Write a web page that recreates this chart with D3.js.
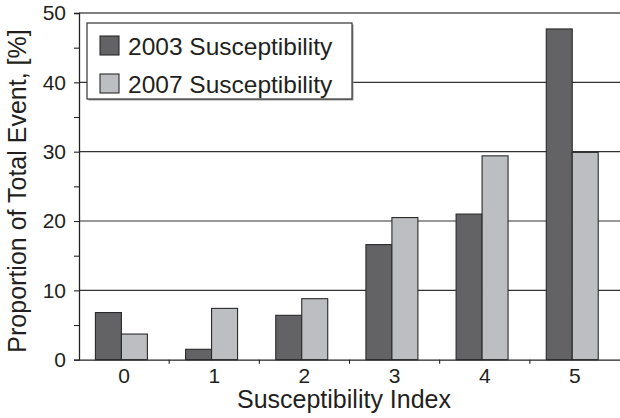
<!DOCTYPE html>
<html>
<head>
<meta charset="utf-8">
<script src="https://cdn.jsdelivr.net/npm/d3@7"></script>
<style>
  body { margin: 0; background: #fff; }
  svg { display: block; font-family: "Liberation Sans", Arial, sans-serif; }
</style>
</head>
<body>
<div id="chart"></div>
<script>
var categories = ["0", "1", "2", "3", "4", "5"];
var seriesNames = ["2003 Susceptibility", "2007 Susceptibility"];
var values2003 = [6.8, 1.5, 6.4, 16.6, 21.0, 47.7];
var values2007 = [3.7, 7.4, 8.8, 20.5, 29.4, 29.9];
var yTicks = [0, 10, 20, 30, 40, 50];
var yMinorTicks = [5, 15, 25, 35, 45];
var colors = ["#636365", "#bdbec2"];

var width = 620, height = 418;
var margin = {top: 13, right: 0, bottom: 58, left: 79};

var svg = d3.select("#chart").append("svg")
    .attr("width", width)
    .attr("height", height);

var xScale = d3.scaleBand()
    .domain(categories)
    .range([margin.left, width - margin.right]);

var xInner = d3.scaleBand()
    .domain(seriesNames)
    .range([0, xScale.bandwidth()])
    .paddingInner(0)
    .paddingOuter(0.735)
    .align(0.43);

var yScale = d3.scaleLinear()
    .domain([0, 50])
    .range([height - margin.bottom - 0.3, margin.top]);

var data = categories.map(function(c, i) {
  return {cat: c, vals: [values2003[i], values2007[i]]};
});

// gridlines
svg.append("g")
  .selectAll("line")
  .data(yTicks.filter(function(d) { return d > 0 && d < 50; }))
  .enter().append("line")
    .attr("x1", margin.left)
    .attr("x2", width)
    .attr("y1", function(d) { return yScale(d); })
    .attr("y2", function(d) { return yScale(d); })
    .attr("stroke", "#333")
    .attr("stroke-width", 1.2);

// top border of plot
svg.append("line")
    .attr("x1", margin.left)
    .attr("x2", width)
    .attr("y1", yScale(50))
    .attr("y2", yScale(50))
    .attr("stroke", "#808080")
    .attr("stroke-width", 2.2);

// bars
var groups = svg.append("g")
  .selectAll("g")
  .data(data)
  .enter().append("g")
    .attr("transform", function(d) { return "translate(" + xScale(d.cat) + ",0)"; });

groups.selectAll("rect")
  .data(function(d) { return d.vals.map(function(v, j) { return {s: seriesNames[j], v: v, j: j}; }); })
  .enter().append("rect")
    .attr("x", function(d) { return xInner(d.s); })
    .attr("y", function(d) { return yScale(d.v); })
    .attr("width", xInner.bandwidth())
    .attr("height", function(d) { return yScale(0) - yScale(d.v); })
    .attr("fill", function(d) { return colors[d.j]; })
    .attr("stroke", "#2a2a2a")
    .attr("stroke-width", 1.1);

// y axis
var yAxis = svg.append("g")
    .attr("transform", "translate(" + margin.left + ",0)")
    .call(d3.axisLeft(yScale).tickValues(yTicks).tickSize(5).tickPadding(8));
yAxis.select(".domain").attr("stroke", "#222").attr("stroke-width", 1.3);
yAxis.selectAll(".tick line").attr("stroke", "#222").attr("stroke-width", 1.1);
yAxis.selectAll(".tick text")
    .attr("font-size", "21px")
    .attr("fill", "#231f20")
    .attr("font-family", "Liberation Sans, Arial, sans-serif");

svg.append("g")
    .attr("transform", "translate(" + margin.left + ",0)")
    .call(d3.axisLeft(yScale).tickValues(yMinorTicks).tickSize(5).tickFormat(""))
    .call(function(g) { g.select(".domain").remove(); })
    .selectAll(".tick line").attr("stroke", "#222").attr("stroke-width", 1.1);

// x axis
var xAxis = svg.append("g")
    .attr("transform", "translate(0," + yScale(0) + ")")
    .call(d3.axisBottom(xScale).tickSize(0).tickPadding(8));
xAxis.select(".domain").attr("stroke", "#222").attr("stroke-width", 1.3);
xAxis.selectAll(".tick text")
    .attr("font-size", "21px")
    .attr("fill", "#231f20")
    .attr("font-family", "Liberation Sans, Arial, sans-serif");

// x tick marks at category boundaries
svg.append("g")
  .selectAll("line")
  .data(categories.slice(1))
  .enter().append("line")
    .attr("x1", function(d) { return xScale(d); })
    .attr("x2", function(d) { return xScale(d); })
    .attr("y1", yScale(0))
    .attr("y2", yScale(0) + 4)
    .attr("stroke", "#222")
    .attr("stroke-width", 1.1);

// axis titles
svg.append("text")
    .attr("x", 344)
    .attr("y", 408)
    .attr("text-anchor", "middle")
    .attr("font-size", "25px")
    .attr("fill", "#231f20")
    .text("Susceptibility Index");

svg.append("text")
    .attr("transform", "translate(26," + 191 + ") rotate(-90)")
    .attr("text-anchor", "middle")
    .attr("font-size", "25px")
    .attr("fill", "#231f20")
    .text("Proportion of Total Event, [%]");

// legend
var legend = svg.append("g").attr("transform", "translate(87,23)");
legend.append("rect")
    .attr("x", 1.5).attr("y", 1.5)
    .attr("width", 265).attr("height", 76)
    .attr("fill", "#999");
legend.append("rect")
    .attr("width", 265).attr("height", 76)
    .attr("fill", "#fff")
    .attr("stroke", "#333")
    .attr("stroke-width", 1.2);

var items = legend.selectAll(".legendRow")
  .data(seriesNames)
  .enter().append("g")
    .attr("class", "legendRow")
    .attr("transform", function(d, i) { return "translate(13," + (13 + i * 38) + ")"; });

items.append("rect")
    .attr("width", 19).attr("height", 19)
    .attr("fill", function(d, i) { return colors[i]; })
    .attr("stroke", "#2a2a2a")
    .attr("stroke-width", 1.1);

items.append("text")
    .attr("x", 28)
    .attr("y", 18.5)
    .attr("font-size", "24.5px")
    .attr("fill", "#231f20")
    .text(function(d) { return d; });
</script>
</body>
</html>
